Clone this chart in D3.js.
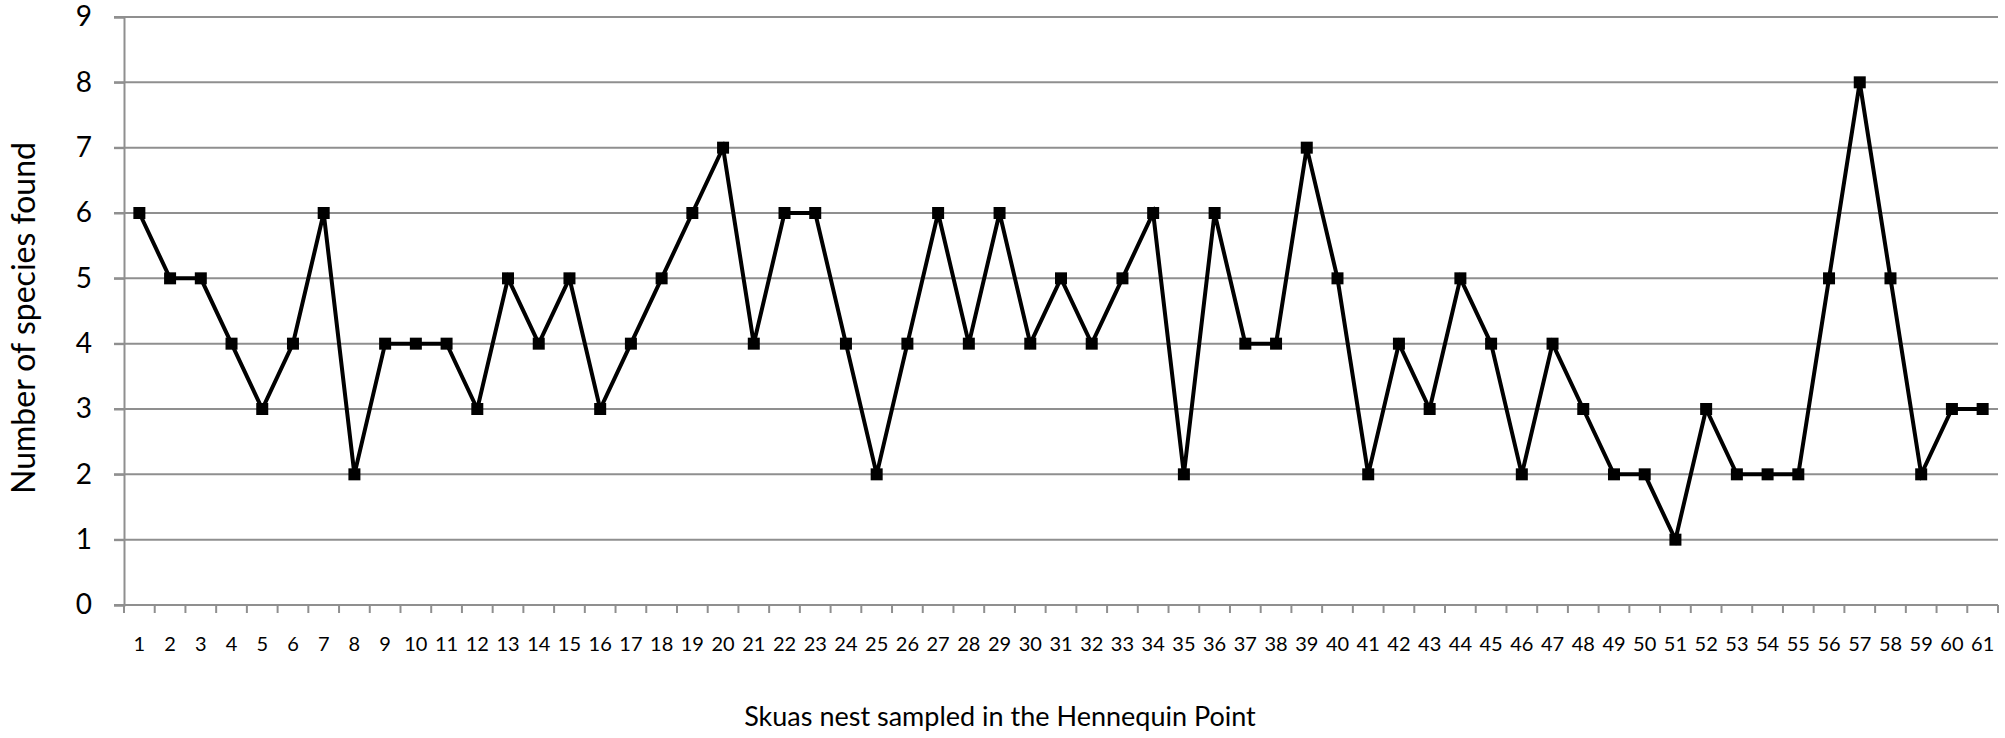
<!DOCTYPE html>
<html>
<head>
<meta charset="utf-8">
<script src="https://cdn.jsdelivr.net/npm/d3@7"></script>
<style>
  html, body { margin: 0; padding: 0; background: #fff; }
  svg { display: block; }
  text { font-family: Lato, "Open Sans", sans-serif; fill: #000; }
</style>
</head>
<body>
<svg id="chart" width="2005" height="738"></svg>
<script>
const nests = d3.range(1, 62).map(String);
const speciesFound = [6,5,5,4,3,4,6,2,4,4,4,3,5,4,5,3,4,5,6,7,4,6,6,4,2,4,6,4,6,4,5,4,5,6,2,6,4,4,7,5,2,4,3,5,4,2,4,3,2,2,1,3,2,2,2,5,8,5,2,3,3];
const yTicks = [0,1,2,3,4,5,6,7,8,9];
const xTitle = "Skuas nest sampled in the Hennequin Point";
const yTitle = "Number of species found";

const svg = d3.select("#chart");
const mLeft = 124, mRight = 1998, mTop = 17, mBottom = 605;

const x = d3.scaleBand().domain(nests).range([mLeft, mRight]).padding(0);
const y = d3.scaleLinear().domain([0, 9]).range([mBottom, mTop]);

const gridColor = "#8f8f8f";

// gridlines
svg.append("g").selectAll("line").data(yTicks).join("line")
  .attr("x1", mLeft - 10).attr("x2", mRight)
  .attr("y1", d => y(d)).attr("y2", d => y(d))
  .attr("stroke", gridColor).attr("stroke-width", 2);

// y axis
const yAxis = svg.append("g").attr("transform", `translate(${mLeft},0)`)
  .call(d3.axisLeft(y).tickValues(yTicks).tickSize(10).tickPadding(22).tickFormat(d3.format("d")));
yAxis.select(".domain").attr("stroke", gridColor).attr("stroke-width", 2);
yAxis.selectAll(".tick line").attr("stroke", gridColor).attr("stroke-width", 2);
yAxis.selectAll("text").style("font-size", "28px").style("font-family", "Lato, sans-serif").attr("fill", "#000");

// x axis labels
const xAxis = svg.append("g").attr("transform", `translate(0,${mBottom})`)
  .call(d3.axisBottom(x).tickSize(0).tickPadding(32));
xAxis.select(".domain").remove();
xAxis.selectAll("text").style("font-size", "20px").style("font-family", "Lato, sans-serif").attr("fill", "#000");

// x tick marks at band boundaries
const bounds = nests.map(d => x(d)).concat([x(nests[nests.length - 1]) + x.bandwidth()]);
svg.append("g").selectAll("line").data(bounds).join("line")
  .attr("x1", d => d).attr("x2", d => d)
  .attr("y1", mBottom).attr("y2", mBottom + 8)
  .attr("stroke", gridColor).attr("stroke-width", 2);

// series line
const cx = (d, i) => x(nests[i]) + x.bandwidth() / 2;
svg.append("path").datum(speciesFound)
  .attr("fill", "none").attr("stroke", "#000").attr("stroke-width", 4)
  .attr("stroke-linejoin", "miter")
  .attr("d", d3.line().x(cx).y(d => y(d)));

// markers
svg.append("g").selectAll("rect").data(speciesFound).join("rect")
  .attr("x", (d, i) => cx(d, i) - 6).attr("y", d => y(d) - 6)
  .attr("width", 12).attr("height", 12).attr("fill", "#000");

// titles
svg.append("text").attr("x", 1000).attr("y", 726).attr("text-anchor", "middle")
  .style("font-size", "27px").text(xTitle);
svg.append("text").attr("transform", `translate(35,318) rotate(-90)`)
  .attr("text-anchor", "middle").style("font-size", "32px").text(yTitle);
</script>
</body>
</html>
